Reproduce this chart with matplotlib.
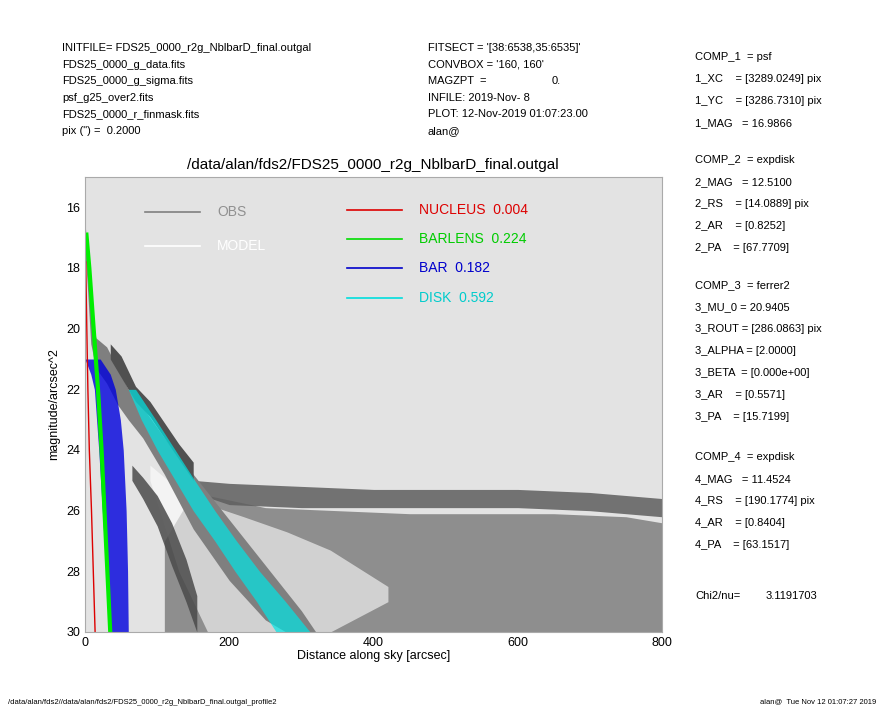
import matplotlib
matplotlib.use("Agg")
import matplotlib.pyplot as plt

plt.rcParams['font.family'] = ['Liberation Sans', 'DejaVu Sans']

# ---- data (envelopes of the point clouds) ----
obs_x      = [0, 3, 8, 15, 30, 45, 60, 80, 110, 150, 200, 250, 300, 320]
obs_top    = [16.5, 17.4, 19.2, 20.3, 20.6, 21.3, 22.0, 22.6, 23.6, 24.8, 26.3, 27.8, 29.3, 30.0]
obs_bottom = [17.5, 18.5, 20.5, 21.3, 21.8, 22.5, 23.0, 23.6, 24.8, 26.6, 28.3, 29.6, 30.3, 30.5]
uridge_x      = [35, 50, 70, 90, 110, 130, 150]
uridge_top    = [20.5, 20.9, 21.9, 22.4, 23.1, 23.8, 24.4]
uridge_bottom = [21.0, 21.6, 22.4, 22.9, 23.6, 24.3, 25.0]
ridge_x      = [65, 80, 100, 120, 140, 155]
ridge_top    = [24.5, 24.9, 25.5, 26.4, 27.6, 28.8]
ridge_bottom = [25.0, 25.6, 26.5, 27.8, 29.0, 30.0]
sky_x      = [150, 200, 300, 400, 500, 600, 700, 800]
sky_top    = [25.0, 25.1, 25.2, 25.3, 25.3, 25.3, 25.4, 25.6]
sky_bottom = [25.4, 25.8, 25.9, 25.9, 25.9, 25.9, 26.0, 26.2]
cloud_x      = [110, 150, 250, 350, 450, 550, 650, 750, 800]
cloud_top    = [27.0, 25.4, 25.9, 26.0, 26.1, 26.1, 26.1, 26.2, 26.4]
cloud_bottom = [30.0, 30.0, 30.0, 30.0, 30.0, 30.0, 30.0, 30.0, 30.0]
model_x      = [90, 130, 170, 220, 280, 340, 420]
model_top    = [24.5, 25.3, 25.8, 26.2, 26.7, 27.3, 28.5]
model_bottom = [25.0, 28.0, 30.0, 30.0, 30.0, 30.0, 29.0]

nuc_mag = [17.8, 20, 22, 24, 26, 28, 30]
nuc_x   = [1, 2.5, 4, 6, 9, 11.5, 14]
bl_mag  = [16.9, 18, 20, 22, 24, 26, 28, 30]
bl_x    = [2, 6, 12, 18, 23, 27, 31, 35]
bar_mag   = [21.0, 21.5, 22, 23, 24, 26, 28, 30]
bar_left  = [0, 8, 13, 16, 19, 24, 29, 34]
bar_right = [21, 35, 42, 49, 53, 57, 59, 60]
disk_mag   = [22.0, 23, 24, 25, 26, 27, 28, 29, 30]
disk_left  = [60, 78, 100, 125, 150, 180, 208, 238, 265]
disk_right = [70, 98, 125, 152, 180, 210, 242, 278, 312]

left_hdr = ["INITFILE= FDS25_0000_r2g_NblbarD_final.outgal", "FDS25_0000_g_data.fits",
            "FDS25_0000_g_sigma.fits", "psf_g25_over2.fits", "FDS25_0000_r_finmask.fits",
            "pix (\") =  0.2000"]
mid_hdr = ["FITSECT = '[38:6538,35:6535]'", "CONVBOX = '160, 160'", "MAGZPT  =",
           "INFILE: 2019-Nov- 8", "PLOT: 12-Nov-2019 01:07:23.00", "alan@"]
right_col = [("COMP_1  = psf", 57), ("1_XC    = [3289.0249] pix", 79), ("1_YC    = [3286.7310] pix", 101),
             ("1_MAG   = 16.9866", 123),
             ("COMP_2  = expdisk", 160), ("2_MAG   = 12.5100", 182), ("2_RS    = [14.0889] pix", 204),
             ("2_AR    = [0.8252]", 226), ("2_PA    = [67.7709]", 248),
             ("COMP_3  = ferrer2", 285), ("3_MU_0 = 20.9405", 307), ("3_ROUT = [286.0863] pix", 329),
             ("3_ALPHA = [2.0000]", 351), ("3_BETA  = [0.000e+00]", 373), ("3_AR    = [0.5571]", 395),
             ("3_PA    = [15.7199]", 417),
             ("COMP_4  = expdisk", 457), ("4_MAG   = 11.4524", 479), ("4_RS    = [190.1774] pix", 501),
             ("4_AR    = [0.8404]", 523), ("4_PA    = [63.1517]", 545)]

W, H = 885, 708
fig = plt.figure(figsize=(W/100, H/100), dpi=100)
def fx(px): return px / W
def fy(py): return 1 - py / H

ax = fig.add_axes([fx(85), fy(632), fx(662) - fx(85), fy(177) - fy(632)])
ax.set_facecolor('#e3e3e3')
ax.set_xlim(0, 800)
ax.set_ylim(30, 15)

ax.fill_between(cloud_x, cloud_top, cloud_bottom, color='#8e8e8e', lw=0)
ax.fill_between(model_x, model_top, model_bottom, color='white', alpha=0.6, lw=0)
ax.fill_between(sky_x, sky_top, sky_bottom, color='#5e5e5e', alpha=0.85, lw=0)
ax.fill_between(obs_x, obs_top, obs_bottom, color='#7f7f7f', lw=0)
ax.fill_between(uridge_x, uridge_top, uridge_bottom, color='#505050', lw=0)
ax.fill_between(ridge_x, ridge_top, ridge_bottom, color='#4a4a4a', alpha=0.85, lw=0)
ax.fill_betweenx(disk_mag, disk_left, disk_right, color='#00e5e5', alpha=0.7, lw=0)
ax.fill_betweenx(bar_mag, bar_left, bar_right, color='#0000dd', alpha=0.8, lw=0)
ax.plot(bl_x, bl_mag, color='#00ee00', lw=3)
ax.plot(nuc_x, nuc_mag, color='#dd0000', lw=1)

ax.set_xticks([0, 200, 400, 600, 800])
ax.set_yticks([16, 18, 20, 22, 24, 26, 28, 30])
ax.tick_params(labelsize=9, length=0)
ax.set_xlabel("Distance along sky [arcsec]", fontsize=9, labelpad=1)
ax.set_ylabel("magnitude/arcsec^2", fontsize=9)
for s in ax.spines.values():
    s.set_color('#aaaaaa'); s.set_linewidth(0.8)

def leg(x0, py, col, txt, tcol):
    fig.add_artist(plt.Line2D([fx(x0), fx(x0 + 55)], [fy(py), fy(py)], color=col, lw=1.2))
    fig.text(fx(x0 + 72), fy(py), txt, color=tcol, fontsize=10, va='center')
leg(145, 212, '#808080', "OBS", '#909090')
leg(145, 246, 'white', "MODEL", 'white')
leg(347, 210, '#dd0000', "NUCLEUS  0.004", '#dd0000')
leg(347, 239, '#00dd00', "BARLENS  0.224", '#00cc00')
leg(347, 268, '#0000cc', "BAR  0.182", '#0000cc')
leg(347, 298, '#00dddd', "DISK  0.592", '#00cccc')

fig.text(fx(373), fy(165), "/data/alan/fds2/FDS25_0000_r2g_NblbarD_final.outgal",
         fontsize=11, ha='center', va='center')

for i, t in enumerate(left_hdr):
    fig.text(fx(62), fy(48 + 16.6 * i), t, fontsize=8, va='center')
for i, t in enumerate(mid_hdr):
    fig.text(fx(428), fy(48 + 16.6 * i), t, fontsize=8, va='center')
fig.text(fx(552), fy(48 + 16.6 * 2), "0.", fontsize=8, va='center')
for t, py in right_col:
    fig.text(fx(695), fy(py), t, fontsize=8, va='center')
fig.text(fx(695), fy(596), "Chi2/nu=", fontsize=8, va='center')
fig.text(fx(766), fy(596), "3.1191703", fontsize=8, va='center')

fig.text(fx(8), fy(702), "/data/alan/fds2//data/alan/fds2/FDS25_0000_r2g_NblbarD_final.outgal_profile2",
         fontsize=5.5, va='center')
fig.text(fx(876), fy(702), "alan@  Tue Nov 12 01:07:27 2019", fontsize=5.5, va='center', ha='right')

fig.savefig("out.png", dpi=100)
